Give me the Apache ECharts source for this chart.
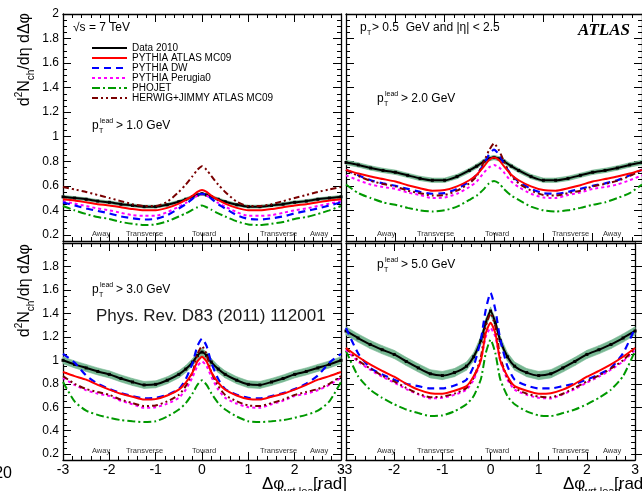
<!DOCTYPE html>
<html>
<head>
	<meta charset="utf-8">
	<title>dN/dphi wrt lead</title>
	<style>
		html, body { margin: 0; padding: 0; background: #fff; }
		#main { width: 642px; height: 491px; }
	</style>
</head>
<body>
	<div id="main"></div>
	<script src="https://cdn.jsdelivr.net/npm/echarts@6/dist/echarts.min.js"></script>
	<script>
	// bin centres, delta phi wrt lead [rad]
	var dphi = [-3, -2.75, -2.5, -2.25, -2, -1.75, -1.5, -1.25, -1, -0.75, -0.5, -0.35, -0.2, -0.1, 0,
		0.1, 0.2, 0.35, 0.5, 0.75, 1, 1.25, 1.5, 1.75, 2, 2.25, 2.5, 2.75, 3];

	// pT lead > 1.0 GeV
	var dataPt1 = [.51,.50,.49,.475,.465,.45,.44,.43,.43,.445,.47,.49,.51,.525,.535,.525,.51,.49,.47,.445,.43,.43,.44,.45,.465,.475,.49,.50,.51];
	var mc09Pt1 = [.49,.48,.465,.45,.44,.425,.41,.40,.40,.42,.455,.485,.52,.55,.565,.55,.52,.485,.455,.42,.40,.40,.41,.425,.44,.45,.465,.48,.49];
	var dwPt1 = [.465,.44,.415,.395,.375,.35,.335,.325,.33,.36,.415,.45,.495,.525,.535,.525,.495,.45,.415,.36,.33,.325,.335,.35,.375,.395,.415,.44,.465];
	var p0Pt1 = [.475,.455,.435,.415,.40,.38,.36,.355,.355,.385,.43,.46,.495,.52,.53,.52,.495,.46,.43,.385,.355,.355,.36,.38,.40,.415,.435,.455,.475];
	var phoPt1 = [.435,.40,.37,.345,.33,.305,.29,.28,.285,.31,.35,.375,.405,.425,.44,.425,.405,.375,.35,.31,.285,.28,.29,.305,.33,.345,.37,.40,.435];
	var hwPt1 = [.59,.57,.55,.525,.50,.475,.45,.435,.435,.47,.55,.61,.68,.73,.76,.73,.68,.61,.55,.47,.435,.435,.45,.475,.50,.525,.55,.57,.59];

	// pT lead > 2.0 GeV
	var dataPt2 = [.79,.77,.745,.725,.71,.685,.66,.645,.645,.675,.725,.76,.80,.82,.83,.82,.80,.76,.725,.675,.645,.645,.66,.685,.71,.725,.745,.77,.79];
	var mc09Pt2 = [.73,.70,.675,.655,.635,.605,.58,.56,.565,.595,.645,.69,.76,.81,.83,.81,.76,.69,.645,.595,.565,.56,.58,.605,.635,.655,.675,.70,.73];
	var dwPt2 = [.73,.685,.645,.62,.60,.575,.55,.535,.54,.575,.635,.69,.78,.855,.895,.855,.78,.69,.635,.575,.54,.535,.55,.575,.60,.62,.645,.685,.73];
	var p0Pt2 = [.685,.645,.61,.59,.575,.545,.525,.50,.505,.535,.59,.635,.71,.75,.77,.75,.71,.635,.59,.535,.505,.50,.525,.545,.575,.59,.61,.645,.685];
	var phoPt2 = [.61,.54,.50,.465,.445,.42,.40,.39,.40,.43,.485,.52,.575,.62,.64,.62,.575,.52,.485,.43,.40,.39,.40,.42,.445,.465,.50,.54,.61];
	var hwPt2 = [.73,.68,.64,.615,.595,.56,.54,.52,.525,.56,.62,.68,.80,.89,.945,.89,.80,.68,.62,.56,.525,.52,.54,.56,.595,.615,.64,.68,.73];

	// pT lead > 3.0 GeV
	var dataPt3 = [1.00,.965,.935,.905,.88,.845,.815,.79,.795,.83,.88,.925,.985,1.04,1.07,1.04,.985,.925,.88,.83,.795,.79,.815,.845,.88,.905,.935,.965,1.00];
	var mc09Pt3 = [.90,.865,.835,.79,.75,.715,.69,.665,.67,.70,.75,.81,.90,.99,1.03,.99,.90,.81,.75,.70,.67,.665,.69,.715,.75,.79,.835,.865,.90];
	var dwPt3 = [1.055,.98,.87,.80,.755,.72,.695,.675,.68,.705,.755,.84,.98,1.12,1.185,1.12,.98,.84,.755,.705,.68,.675,.695,.72,.755,.80,.87,.98,1.055];
	var p0Pt3 = [.85,.79,.745,.715,.695,.655,.625,.595,.60,.63,.68,.75,.86,.95,.99,.95,.86,.75,.68,.63,.60,.595,.625,.655,.695,.715,.745,.79,.85];
	var phoPt3 = [.815,.65,.57,.535,.51,.49,.48,.473,.48,.52,.58,.635,.72,.79,.83,.79,.72,.635,.58,.52,.48,.473,.48,.49,.51,.535,.57,.65,.815];
	var hwPt3 = [.865,.80,.755,.73,.705,.665,.635,.61,.615,.65,.705,.78,.90,1.05,1.12,1.05,.90,.78,.705,.65,.615,.61,.635,.665,.705,.73,.755,.80,.865];

	// pT lead > 5.0 GeV
	var dataPt5 = [1.25,1.19,1.135,1.09,1.05,.99,.935,.885,.87,.895,.95,1.03,1.17,1.32,1.42,1.32,1.17,1.03,.95,.895,.87,.885,.935,.99,1.05,1.09,1.135,1.19,1.25];
	var mc09Pt5 = [1.105,1.03,.965,.91,.86,.80,.75,.72,.715,.74,.78,.865,1.0,1.23,1.32,1.23,1.0,.865,.78,.74,.715,.72,.75,.80,.86,.91,.965,1.03,1.105];
	var dwPt5 = [1.275,1.06,.935,.88,.835,.80,.78,.76,.76,.785,.835,.95,1.18,1.43,1.575,1.43,1.18,.95,.835,.785,.76,.76,.78,.80,.835,.88,.935,1.06,1.275];
	var p0Pt5 = [1.09,.99,.92,.86,.81,.755,.71,.675,.68,.705,.75,.835,1.0,1.2,1.275,1.2,1.0,.835,.75,.705,.68,.675,.71,.755,.81,.86,.92,.99,1.09];
	var phoPt5 = [1.08,.865,.75,.68,.625,.58,.55,.525,.53,.565,.625,.695,.84,1.06,1.175,1.06,.84,.695,.625,.565,.53,.525,.55,.58,.625,.68,.75,.865,1.08];
	var hwPt5 = [1.105,1.0,.93,.87,.82,.765,.715,.685,.69,.715,.765,.85,1.03,1.29,1.40,1.29,1.03,.85,.765,.715,.69,.685,.715,.765,.82,.87,.93,1.0,1.105];

	// half width of the systematic band, one per panel
	var bandHalf = [0.012, 0.018, 0.03, 0.035];

	var yTicks = [0.2, 2.0];
	var names = ['Data 2010', 'PYTHIA ATLAS MC09', 'PYTHIA DW', 'PYTHIA Perugia0', 'PHOJET', 'HERWIG+JIMMY ATLAS MC09'];

	var panels = [
		{ data: dataPt1, mc09: mc09Pt1, dw: dwPt1, p0: p0Pt1, pho: phoPt1, hw: hwPt1 },
		{ data: dataPt2, mc09: mc09Pt2, dw: dwPt2, p0: p0Pt2, pho: phoPt2, hw: hwPt2 },
		{ data: dataPt3, mc09: mc09Pt3, dw: dwPt3, p0: p0Pt3, pho: phoPt3, hw: hwPt3 },
		{ data: dataPt5, mc09: mc09Pt5, dw: dwPt5, p0: p0Pt5, pho: phoPt5, hw: hwPt5 }
	];

	var FONT = '"Liberation Sans", Arial, sans-serif';

	// frames of the 4 pads
	var grids = [
		{ left: 63, top: 14, width: 278, height: 227 },
		{ left: 346, top: 14, width: 298, height: 227 },
		{ left: 63, top: 243, width: 278, height: 217 },
		{ left: 346, top: 243, width: 298, height: 217 }
	];
	var yMin = 0.15, yMax = 2.0;

	function pairs(ys) {
		return dphi.map(function (x, k) { return [x, ys[k]]; });
	}

	// one quad per pair of neighbouring points: [x0, lo0, hi0, x1, lo1, hi1]
	function bandQuads(ys, hw) {
		var out = [];
		for (var k = 0; k < dphi.length - 1; k++) {
			out.push([dphi[k], ys[k] - hw, ys[k] + hw, dphi[k + 1], ys[k + 1] - hw, ys[k + 1] + hw]);
		}
		return out;
	}

	var BAND = '#78b893';

	function renderBand(params, api) {
		var a = api.coord([api.value(0), api.value(1)]);
		var b = api.coord([api.value(3), api.value(4)]);
		var c = api.coord([api.value(3), api.value(5)]);
		var d = api.coord([api.value(0), api.value(2)]);
		return {
			type: 'polygon',
			shape: { points: [a, b, c, d] },
			style: { fill: BAND, stroke: BAND, lineWidth: 0.6 }
		};
	}

	var lineStyles = {
		'Data 2010': { color: '#000000', width: 2, type: 'solid' },
		'PYTHIA ATLAS MC09': { color: '#ff0000', width: 2, type: 'solid' },
		'PYTHIA DW': { color: '#0000ff', width: 2.2, type: [7, 5] },
		'PYTHIA Perugia0': { color: '#ff00ff', width: 2, type: [3, 3] },
		'PHOJET': { color: '#009900', width: 2, type: [8, 3, 2, 3] },
		'HERWIG+JIMMY ATLAS MC09': { color: '#7a0000', width: 2, type: [6, 3, 2, 3, 2, 3] }
	};

	var gridList = [], xAxes = [], yAxes = [], series = [];

	grids.forEach(function (g, i) {
		var bottomRow = i >= 2;
		gridList.push(g);
		xAxes.push({
			gridIndex: i, type: 'value', position: 'bottom', min: -3, max: 3, interval: 1,
			axisLine: { onZero: false, lineStyle: { color: '#000', width: 1.3 } },
			axisTick: { inside: true, length: 8, lineStyle: { color: '#000' } },
			minorTick: { show: true, splitNumber: 5, length: 4, lineStyle: { color: '#000' } },
			splitLine: { show: false }, minorSplitLine: { show: false },
			axisLabel: { show: bottomRow, color: '#000', fontSize: 14, fontFamily: FONT, margin: 3, showMinLabel: true, showMaxLabel: true }
		});
		xAxes.push({
			gridIndex: i, type: 'value', position: 'top', min: -3, max: 3, interval: 1,
			axisLine: { onZero: false, lineStyle: { color: '#000', width: 1.3 } },
			axisTick: { inside: true, length: 8, lineStyle: { color: '#000' } },
			minorTick: { show: true, splitNumber: 5, length: 4, lineStyle: { color: '#000' } },
			splitLine: { show: false }, axisLabel: { show: false }
		});
		['left', 'right'].forEach(function (p) {
			yAxes.push({
				gridIndex: i, type: 'value', position: p, min: yMin, max: yMax, interval: 0.05,
				axisLine: { onZero: false, lineStyle: { color: '#000', width: 1.3 } },
				axisTick: { inside: true, length: 4, lineStyle: { color: '#000' } },
				splitLine: { show: false }, axisLabel: { show: false }
			});
		});

		// systematic band of the data
		var p = panels[i];
		series.push({
			type: 'custom', xAxisIndex: 2 * i, yAxisIndex: 2 * i, silent: true, z: 1,
			renderItem: renderBand,
			encode: { x: [0, 3], y: [1, 2, 4, 5] },
			data: bandQuads(p.data, bandHalf[i])
		});

		var order = [
			['Data 2010', p.data], ['PHOJET', p.pho], ['PYTHIA Perugia0', p.p0],
			['PYTHIA DW', p.dw], ['HERWIG+JIMMY ATLAS MC09', p.hw], ['PYTHIA ATLAS MC09', p.mc09]
		];
		order.forEach(function (o) {
			var isData = o[0] === 'Data 2010';
			series.push({
				name: o[0], type: 'line', xAxisIndex: 2 * i, yAxisIndex: 2 * i,
				symbol: isData ? 'rect' : 'none', symbolSize: 3, showSymbol: isData,
				smooth: 0.2, z: isData ? 3 : 4,
				itemStyle: { color: lineStyles[o[0]].color },
				lineStyle: lineStyles[o[0]],
				data: pairs(o[1])
			});
		});
	});

	// extra pads only for the long ticks and labels at 0.2 steps
	grids.forEach(function (g, i) {
		var bottomRow = i >= 2, leftCol = i % 2 === 0;
		var h = g.height * (yTicks[1] - yTicks[0]) / (yMax - yMin);
		gridList.push({ left: g.left, top: g.top, width: g.width, height: h });
		xAxes.push({ gridIndex: 4 + i, type: 'value', min: -3, max: 3, show: false });
		['left', 'right'].forEach(function (pos) {
			yAxes.push({
				gridIndex: 4 + i, type: 'value', position: pos, min: yTicks[0], max: yTicks[1], interval: 0.2,
				axisLine: { show: false, onZero: false },
				axisTick: { inside: true, length: 8, lineStyle: { color: '#000' } },
				splitLine: { show: false },
				axisLabel: {
					show: leftCol && pos === 'left', color: '#000', fontSize: 12, fontFamily: FONT, margin: 4,
					showMinLabel: true, showMaxLabel: true,
					formatter: function (v) {
						if (bottomRow && v > 1.99) return '';
						return String(Math.round(v * 10) / 10);
					}
				}
			});
		});
	});

	function txt(x, y, s, size, extra) {
		return {
			type: 'text', x: x, y: y, silent: true, z: 50,
			style: Object.assign({ text: s, fill: '#000', font: size + 'px ' + FONT, align: 'left', verticalAlign: 'middle' }, extra || {})
		};
	}
	function ptLead(x, y, rest) {
		return [txt(x, y, 'p', 12), txt(x + 7, y + 5, 'T', 7), txt(x + 8, y - 5, 'lead', 7), txt(x + 24, y, rest, 12)];
	}
	function regions(xs, y) {
		var lab = ['Away', 'Transverse', 'Toward', 'Transverse', 'Away'];
		return lab.map(function (l, k) { return txt(xs[k], y, l, 7.5, { fill: '#333' }); });
	}
	function yTitle(x, y) {
		return {
			type: 'text', x: x, y: y, rotation: Math.PI / 2, silent: true, z: 50,
			style: {
				text: '{a|d}{s|2}{a|N}{b|ch}{a|/dη dΔφ}', align: 'right', verticalAlign: 'middle',
				rich: {
					a: { fontSize: 16, fontFamily: FONT, lineHeight: 22, verticalAlign: 'middle', fill: '#000' },
					s: { fontSize: 10, fontFamily: FONT, lineHeight: 12, verticalAlign: 'top', fill: '#000' },
					b: { fontSize: 10, fontFamily: FONT, lineHeight: 12, verticalAlign: 'bottom', fill: '#000' }
				}
			}
		};
	}
	function xTitle(x) {
		return [txt(x, 484, 'Δφ', 17), txt(x + 19, 492, 'wrt lead', 11), txt(x + 51, 484, '[rad]', 17)];
	}

	var graphics = [].concat(
		[txt(73, 28, '√s = 7 TeV', 12)],
		ptLead(92, 126, '> 1.0 GeV'),
		[txt(360, 28, 'p', 12), txt(367, 33, 'T', 7), txt(372, 28, '> 0.5  GeV and |η| < 2.5', 12)],
		[txt(578, 31, 'ATLAS', 17, { font: 'italic bold 17px "Liberation Serif", serif' })],
		ptLead(377, 99, '> 2.0 GeV'),
		ptLead(92, 290, '> 3.0 GeV'),
		[txt(96, 316, 'Phys. Rev. D83 (2011) 112001', 17, { fill: '#1a1a1a' })],
		ptLead(377, 265, '> 5.0 GeV'),
		regions([92, 126, 192, 260, 310], 234),
		regions([377, 417, 485, 552, 603], 234),
		regions([92, 126, 192, 260, 310], 451),
		regions([377, 417, 485, 552, 603], 451),
		[yTitle(25, 13), yTitle(25, 244)],
		xTitle(262), xTitle(563),
		[txt(12, 474, '20', 16, { align: 'right' })]
	);

	var option = {
		animation: false,
		backgroundColor: '#fff',
		legend: {
			data: names, orient: 'vertical', left: 91, top: 43,
			itemWidth: 35, itemHeight: 9, itemGap: 0, padding: 0,
			itemStyle: { opacity: 0 },
			textStyle: { fontSize: 10, fontFamily: FONT, color: '#000', lineHeight: 9 },
			selectedMode: false
		},
		grid: gridList,
		xAxis: xAxes,
		yAxis: yAxes,
		series: series,
		graphic: graphics
	};

	var myChart = echarts.init(document.getElementById('main'));
	myChart.setOption(option);
</script>
</body>
</html>
